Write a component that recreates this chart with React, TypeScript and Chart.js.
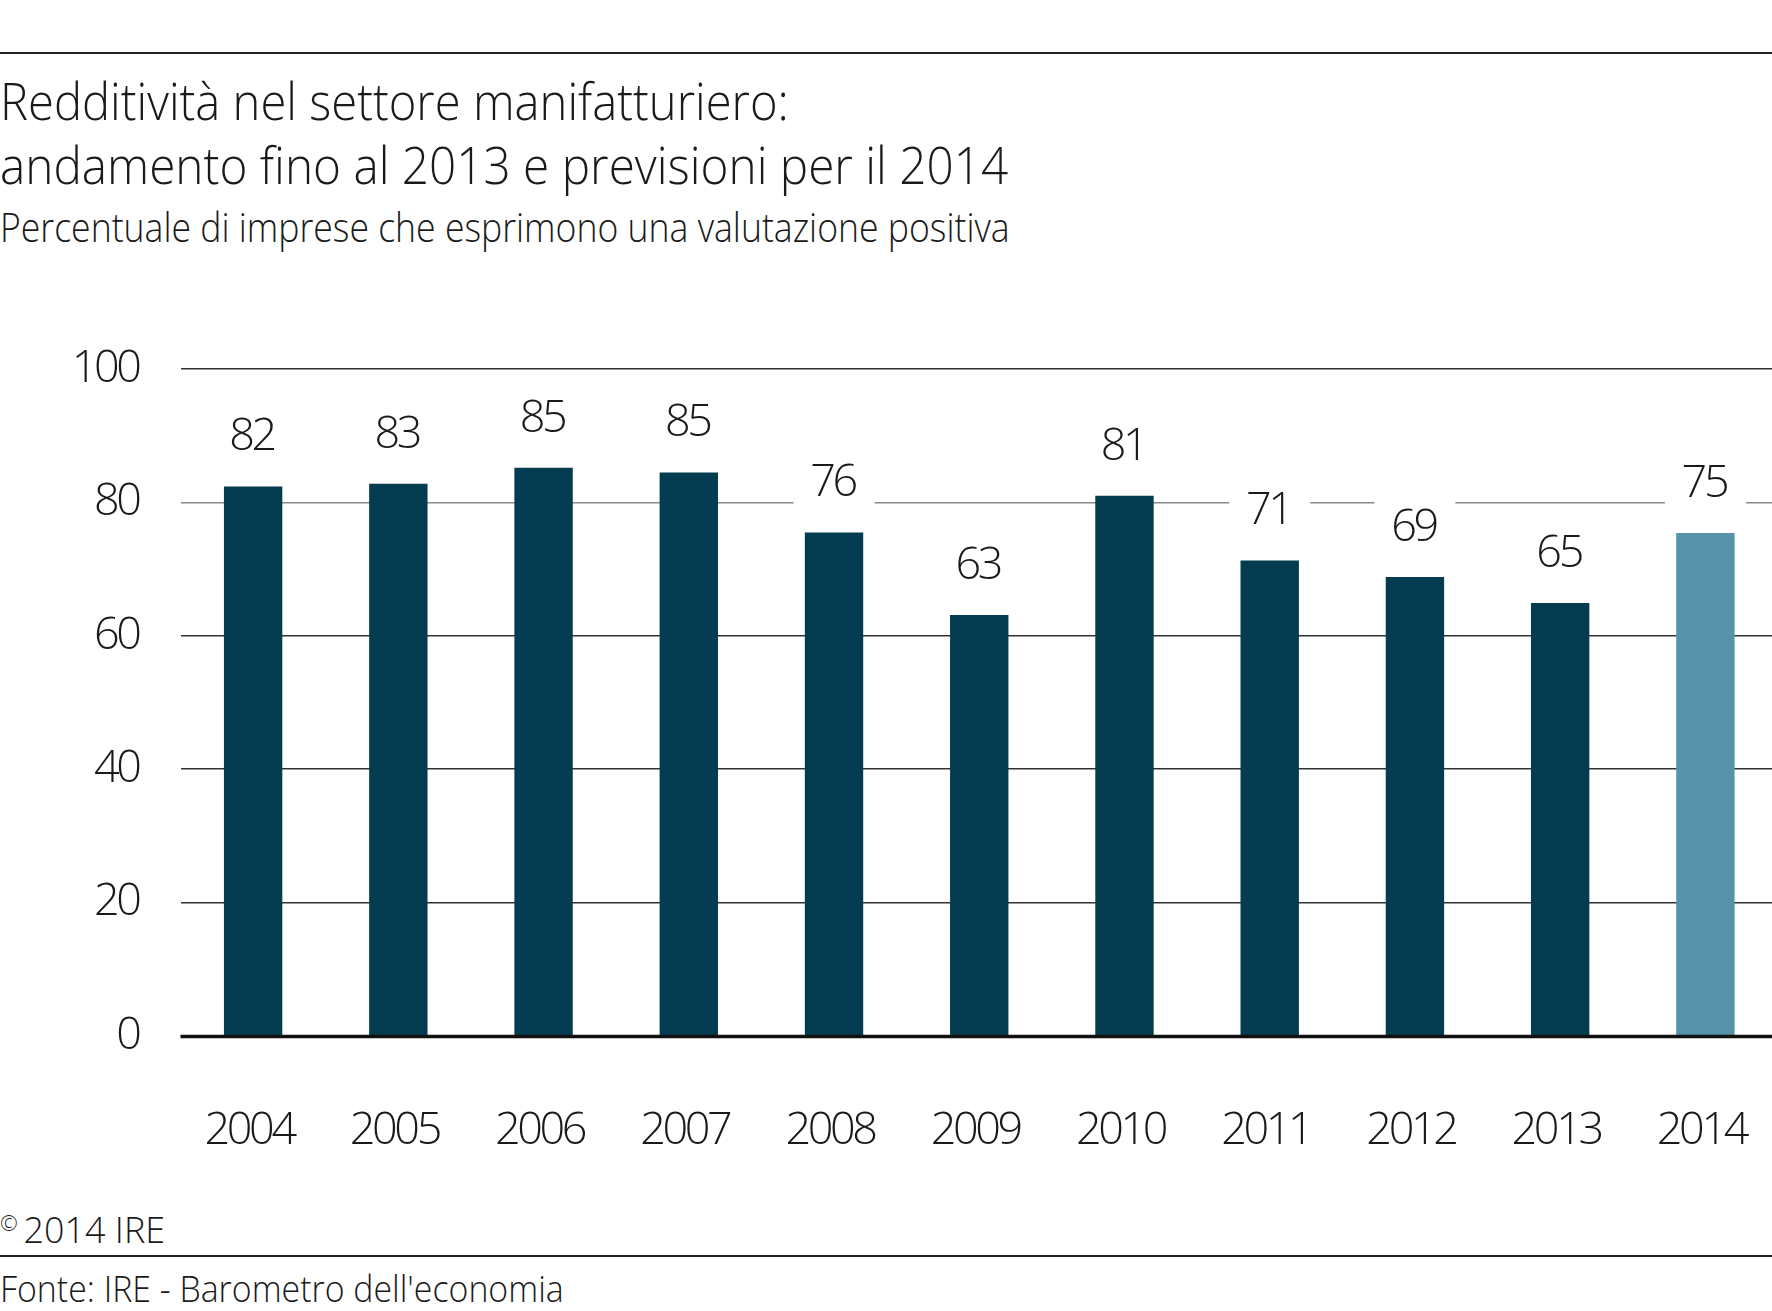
import React, { useEffect, useRef } from "react";
import { Chart, registerables } from "chart.js";

Chart.register(...registerables);

// ---- data ----
const years = ["2004", "2005", "2006", "2007", "2008", "2009", "2010", "2011", "2012", "2013", "2014"];
const positiveShare = [82.4, 82.8, 85.2, 84.5, 75.5, 63.1, 81.0, 71.3, 68.8, 64.9, 75.4];
const forecastYear = "2014";
const yTicks = [0, 20, 40, 60, 80, 100];

const titleLines = [
  "Redditività nel settore manifatturiero:",
  "andamento fino al 2013 e previsioni per il 2014",
];
const subtitle = "Percentuale di imprese che esprimono una valutazione positiva";
const copyrightText = "2014 IRE";
const sourceText = "Fonte: IRE - Barometro dell'economia";

const DARK = "#033b50";
const LIGHT = "#5693a9";
const FONT = "'Open Sans', 'Noto Sans', sans-serif";
const CANVAS_FONT_WEIGHT = "300";
const TIGHT = "-3.4px";

const spacingPlugin = {
  id: "tightText",
  beforeDraw(chart: any) {
    (chart.ctx as any).letterSpacing = TIGHT;
  },
  afterDraw(chart: any) {
    (chart.ctx as any).letterSpacing = "0px";
  },
};

const labelPlugin = {
  id: "valueLabels",
  afterDatasetsDraw(chart: any) {
    const ctx = chart.ctx;
    const meta = chart.getDatasetMeta(0);
    const yScale = chart.scales.y;
    ctx.save();
    // zero line
    const y0 = yScale.getPixelForValue(0);
    ctx.strokeStyle = "#111";
    ctx.lineWidth = 3.5;
    ctx.beginPath();
    ctx.moveTo(chart.chartArea.left, y0 + 0.5);
    ctx.lineTo(chart.chartArea.right, y0 + 0.5);
    ctx.stroke();
    // labels
    ctx.font = `${CANVAS_FONT_WEIGHT} 45px ${FONT}`;
    (ctx as any).letterSpacing = TIGHT;
    ctx.textAlign = "center";
    ctx.textBaseline = "middle";
    meta.data.forEach((el: any, i: number) => {
      const cx = el.x;
      const cy = el.y - 51;
      ctx.fillStyle = "#fff";
      ctx.fillRect(cx - 40.5, cy - 30, 81, 60);
      ctx.fillStyle = "#1a1a1a";
      ctx.fillText(String(Math.round(positiveShare[i])), cx - 1.5, cy + 2);
    });
    ctx.restore();
  },
};

function BarChart() {
  const ref = useRef<HTMLCanvasElement>(null);
  useEffect(() => {
    const chart = new Chart(ref.current!, {
      type: "bar",
      data: {
        labels: years,
        datasets: [
          {
            data: positiveShare,
            backgroundColor: years.map((y) => (y === forecastYear ? LIGHT : DARK)),
            barPercentage: 0.402,
            categoryPercentage: 1,
          },
        ],
      },
      options: {
        responsive: false,
        animation: false,
        layout: { padding: { top: 68, left: 0, right: 0, bottom: 0 } },
        plugins: { legend: { display: false }, tooltip: { enabled: false }, title: { display: false } },
        scales: {
          x: {
            grid: { display: false },
            border: { display: false },
            ticks: {
              font: { family: FONT, size: 45, weight: CANVAS_FONT_WEIGHT as any },
              color: "#1a1a1a",
              padding: 60,
              maxRotation: 0,
              labelOffset: -4,
            },
            afterFit: (s: any) => {
              s.height = 164;
              s.paddingLeft = 0;
              s.paddingRight = 0;
            },
          },
          y: {
            min: 0,
            max: 100,
            afterBuildTicks: (s: any) => {
              s.ticks = yTicks.map((v) => ({ value: v }));
            },
            grid: {
              drawTicks: false,
              color: (c: any) => (c.tick && c.tick.value === 80 ? "#8a8a8a" : c.tick && c.tick.value === 0 ? "rgba(0,0,0,0)" : "#333333"),
              lineWidth: 1.5,
            },
            border: { display: false },
            ticks: {
              font: { family: FONT, size: 45, weight: CANVAS_FONT_WEIGHT as any },
              color: "#1a1a1a",
              padding: 42,
            },
            afterFit: (s: any) => {
              s.width = 180.5;
            },
          },
        },
      },
      plugins: [spacingPlugin, labelPlugin],
    });
    return () => chart.destroy();
  }, []);
  return <canvas ref={ref} width={1778} height={900} style={{ display: "block" }} />;
}

export default function App() {
  const text = (top: number, size: number, sx: number, content: React.ReactNode) => (
    <div
      style={{
        position: "absolute",
        left: 0,
        top,
        fontFamily: FONT,
        fontWeight: 300,
        fontSize: size,
        lineHeight: 1,
        color: "#1a1a1a",
        whiteSpace: "nowrap",
        transform: `scaleX(${sx})`,
        transformOrigin: "left center",
      }}
    >
      {content}
    </div>
  );
  return (
    <div style={{ position: "absolute", left: 0, top: 0, width: 1772, height: 1311, overflow: "hidden", background: "#fff" }}>
      <div style={{ position: "absolute", left: 0, top: 52, width: 1772, height: 2, background: "#222" }} />
      {text(75.4, 51, 0.925, titleLines[0])}
      {text(139, 51, 0.935, titleLines[1])}
      {text(205.9, 41, 0.868, subtitle)}
      <div style={{ position: "absolute", left: 0, top: 300 }}>
        <BarChart />
      </div>
      {text(1210, 37, 0.97, (
        <>
          <span style={{ fontSize: 22, verticalAlign: "12px", marginRight: 6 }}>©</span>
          {copyrightText}
        </>
      ))}
      <div style={{ position: "absolute", left: 0, top: 1255, width: 1772, height: 1.5, background: "#222" }} />
      {text(1269, 37, 0.915, sourceText)}
    </div>
  );
}
